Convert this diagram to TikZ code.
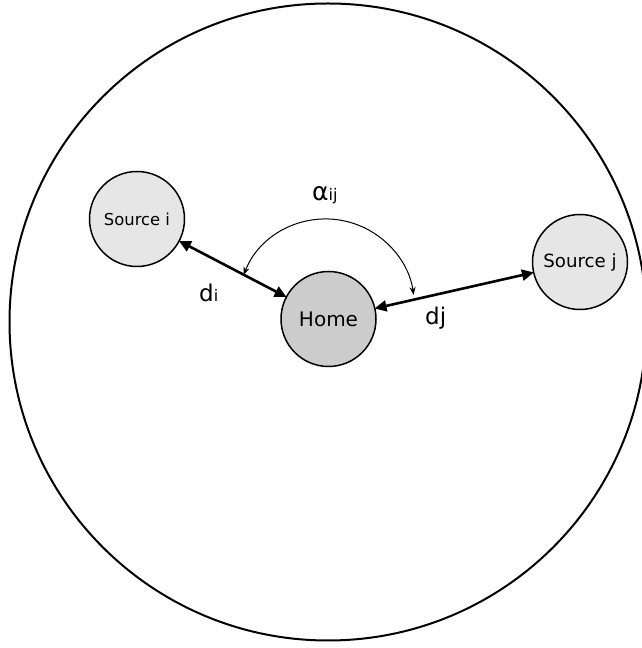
\documentclass[tikz,border=0pt]{standalone}
\usepackage{fontspec}
\setmainfont{DejaVu Sans}
\usetikzlibrary{arrows.meta}
\definecolor{srcfill}{HTML}{E6E6E6}
\definecolor{homefill}{HTML}{CCCCCC}
\tikzset{
  src/.style={circle, draw=black, line width=1.5pt, fill=srcfill, minimum size=95pt, inner sep=0pt},
  homebox/.style={circle, draw=black, line width=1.5pt, fill=homefill, minimum size=95pt, inner sep=0pt},
  dist/.style={line width=2.6pt, {Triangle[length=12pt,width=11pt]}-{Triangle[length=12pt,width=11pt]}, shorten <=-1pt, shorten >=-1pt},
  anglearc/.style={line width=1pt, {Stealth[length=8pt,width=6pt]}-{Stealth[length=8pt,width=6pt]}},
  lbl/.style={inner sep=0pt, anchor=base west}
}
\begin{document}
\begin{tikzpicture}[x=1pt,y=1pt]
\useasboundingbox (0,0) rectangle (642,648);
\node[circle, draw=black, line width=2pt, minimum size=637pt, inner sep=0pt] (world) at (328,326) {};
\node[src, font=\fontsize{16.4}{18}\selectfont] (si) at (137,429) {Source i};
\node[src, font=\fontsize{18.2}{20}\selectfont] (sj) at (580,386) {Source j};
\node[homebox, font=\fontsize{20}{22}\selectfont] (home) at (328.5,329) {Home};
\draw[dist] (si) -- (home);
\draw[dist] (home) -- (sj);
\coordinate (a1) at (243.6,373);
\draw[anglearc] (a1) arc[start angle=158.4, end angle=8.2, radius=88.6];
\node[lbl] (ldi) at (199,346) {\fontsize{23}{25}\selectfont d\fontsize{16}{18}\selectfont i};
\node[lbl] (ldj) at (425,323) {\fontsize{23}{25}\selectfont dj};
\node[lbl] (lal) at (312,447) {\fontsize{25}{27}\selectfont α\fontsize{16}{18}\selectfont ij};
\end{tikzpicture}
\end{document}
